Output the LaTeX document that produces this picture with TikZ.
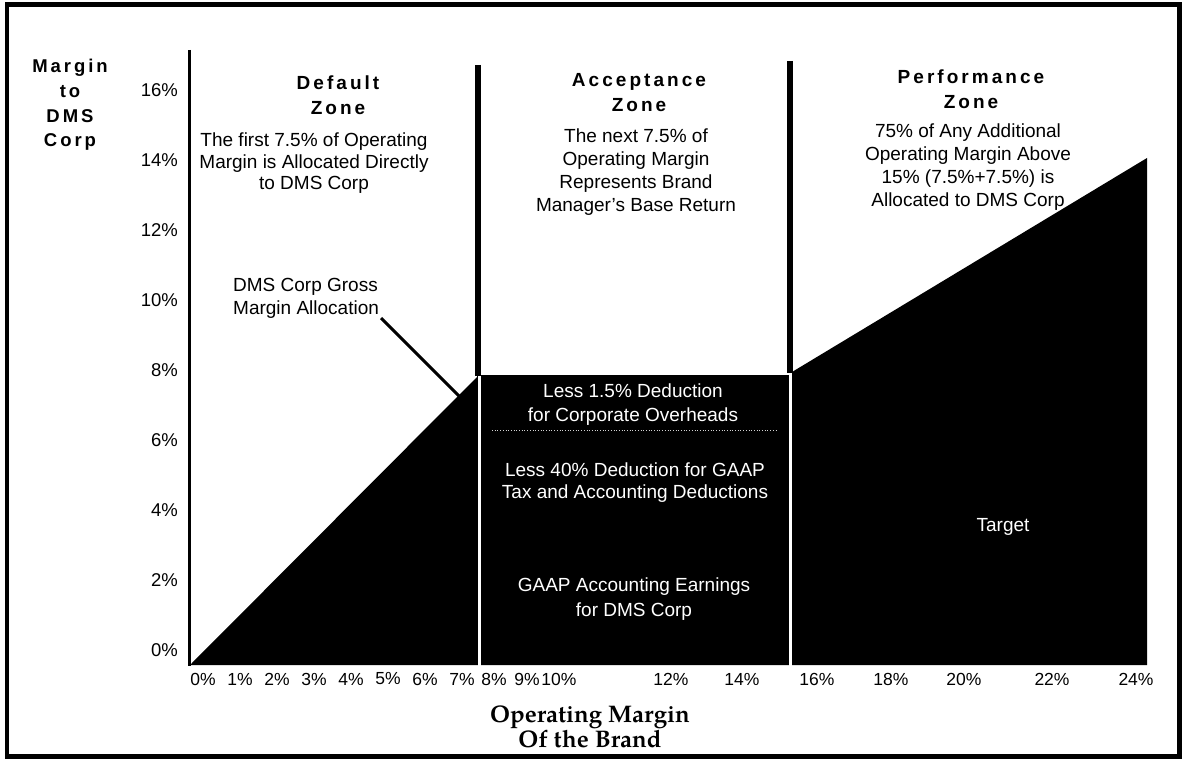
\documentclass[tikz,border=0pt]{standalone}
\usepackage{fontspec}
\setmainfont{Liberation Sans}
\newfontfamily\hdr{Liberation Sans}[LetterSpace=16]
\newfontfamily\pal{TeX Gyre Pagella}
\begin{document}
\begin{tikzpicture}[x=1pt,y=-1pt,
  lbl/.style={font={\fontsize{19}{23}\selectfont}, align=center, inner sep=0pt},
  wlbl/.style={lbl, text=white},
  hd/.style={font={\hdr\bfseries\fontsize{19}{25}\selectfont}, align=center, inner sep=0pt},
  ytick/.style={font={\fontsize{18.5}{22}\selectfont}, anchor=east, inner sep=0pt},
  xtick/.style={font={\fontsize{17.5}{21}\selectfont}, inner sep=0pt},
  divider/.style={line width=5.5pt},
  wdivider/.style={white, line width=3.5pt},
]
\useasboundingbox (0,0) rectangle (1183,759);
% frame
\draw[line width=4.5pt] (7,4.5) rectangle (1179.5,756.5);

% y axis title and ticks
\node[hd, font={\hdr\bfseries\fontsize{18.5}{24.7}\selectfont}] (ytitle) at (70,105) {Margin\\to\\DMS\\Corp};
\foreach \v/\yy in {16/90,14/160,12/230,10/300,8/370,6/440,4/510,2/580,0/650}
  \node[ytick] (y\v) at (178,\yy) {\v\%};

% zone headers
\node[hd] (hdef) at (338,95.5) {Default\\Zone};
\node[hd] (hacc) at (639,93) {Acceptance\\Zone};
\node[hd] (hperf) at (971,89.5) {Performance\\Zone};

% zone descriptions
\node[lbl, font={\fontsize{19}{21.5}\selectfont}] (ddef) at (314,163.5) {The first 7.5\% of Operating\\Margin is Allocated Directly\\to DMS Corp};
\node[lbl] (dacc) at (636,172) {The next 7.5\% of\\Operating Margin\\Represents Brand\\Manager's Base Return};
\node[lbl] (dperf) at (968,167) {75\% of Any Additional\\Operating Margin Above\\15\% (7.5\%+7.5\%) is\\Allocated to DMS Corp};

% black allocation area
\fill (190,665) -- (477,377) -- (477,375) -- (790,375) -- (792,372) -- (1147,158) -- (1147,665) -- cycle;

% axis
\draw[line width=3pt] (189,50) -- (189,666);

% dividers
\draw[divider] (478,65) -- (478,376);
\draw[wdivider] (479.5,376) -- (479.5,666);
\draw[divider] (790,61) -- (790,373);
\draw[wdivider] (790.5,373) -- (790.5,666);

% faint band line
\draw[gray!35, dotted, line width=0.7pt] (492,430) -- (778,430);

% leader label
\node[lbl, align=left, anchor=west] (gross) at (233,298.5) {DMS Corp Gross\\Margin Allocation};
\coordinate (ls) at (381,318);
\coordinate (lt) at (459,396);
\draw[line width=3pt] (ls) -- (lt);

% white texts in block
\node[wlbl, font={\fontsize{19}{24}\selectfont}] (t1) at (633,405) {Less 1.5\% Deduction\\for Corporate Overheads};
\node[wlbl, font={\fontsize{19}{21.5}\selectfont}] (t2) at (635,482.5) {Less 40\% Deduction for GAAP\\Tax and Accounting Deductions};
\node[wlbl, font={\fontsize{19}{25}\selectfont}] (t3) at (634,599.5) {GAAP Accounting Earnings\\for DMS Corp};
\node[wlbl] (target) at (1003,527) {Target};

% x ticks
\foreach \v/\xx in {0/203,1/240,2/277,3/314,4/351,5/388,6/425,7/462,8/494,9/527,10/559,12/671,14/742,16/817,18/891,20/964,22/1052,24/1136}
  \node[xtick] (x\v) at (\xx,679) {\v\%};

% x axis title
\node[align=center, inner sep=0pt, font={\pal\bfseries\fontsize{24}{23}\selectfont}] (xtitle) at (590,727) {Operating Margin\\Of the Brand};
\end{tikzpicture}
\end{document}
